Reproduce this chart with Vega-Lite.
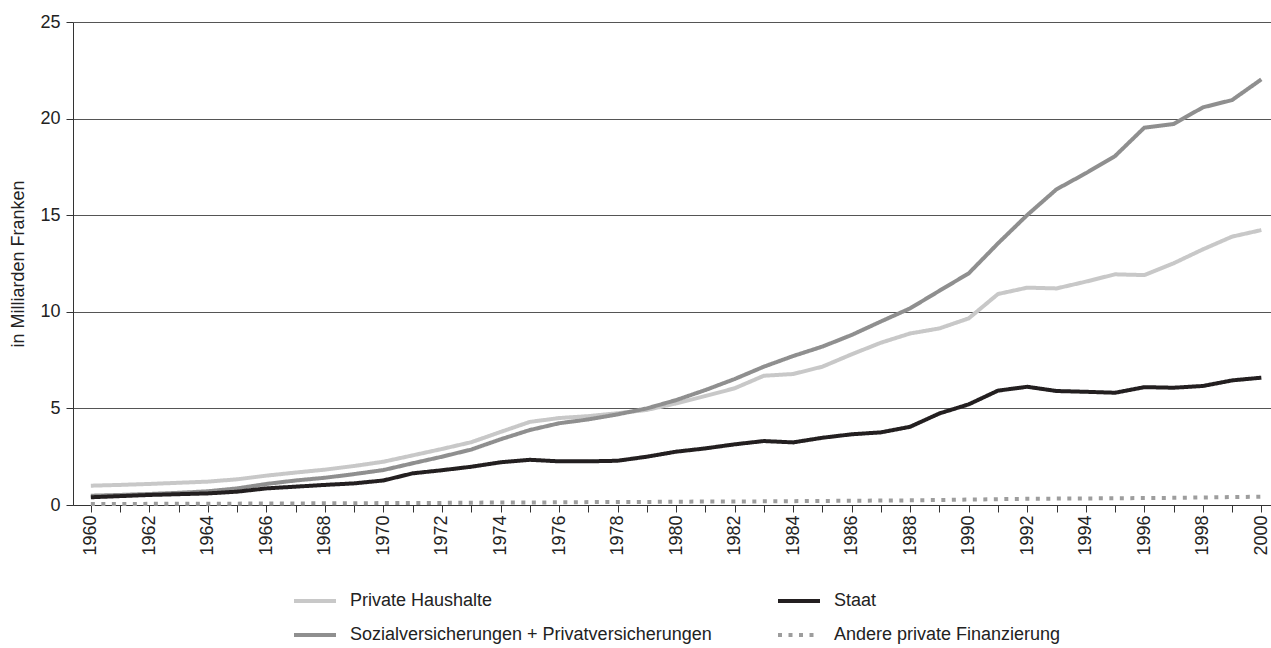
{
  "$schema": "https://vega.github.io/schema/vega-lite/v6.json",
  "width": 1198,
  "height": 483,
  "autosize": "none",
  "padding": {"left": 73, "top": 22, "right": 0, "bottom": 143},
  "background": "white",
  "config": {
    "font": "Liberation Sans",
    "view": {"stroke": null},
    "axis": {"labelFont": "Liberation Sans", "titleFont": "Liberation Sans", "labelColor": "#222", "titleColor": "#222"},
    "legend": {"labelFont": "Liberation Sans"}
  },
  "data": {"values": [
    {"year": 1960, "series": "Private Haushalte", "value": 1.00},
    {"year": 1961, "series": "Private Haushalte", "value": 1.04},
    {"year": 1962, "series": "Private Haushalte", "value": 1.09},
    {"year": 1963, "series": "Private Haushalte", "value": 1.15},
    {"year": 1964, "series": "Private Haushalte", "value": 1.21},
    {"year": 1965, "series": "Private Haushalte", "value": 1.33},
    {"year": 1966, "series": "Private Haushalte", "value": 1.52},
    {"year": 1967, "series": "Private Haushalte", "value": 1.68},
    {"year": 1968, "series": "Private Haushalte", "value": 1.83},
    {"year": 1969, "series": "Private Haushalte", "value": 2.02},
    {"year": 1970, "series": "Private Haushalte", "value": 2.24},
    {"year": 1971, "series": "Private Haushalte", "value": 2.57},
    {"year": 1972, "series": "Private Haushalte", "value": 2.90},
    {"year": 1973, "series": "Private Haushalte", "value": 3.25},
    {"year": 1974, "series": "Private Haushalte", "value": 3.78},
    {"year": 1975, "series": "Private Haushalte", "value": 4.30},
    {"year": 1976, "series": "Private Haushalte", "value": 4.50},
    {"year": 1977, "series": "Private Haushalte", "value": 4.60},
    {"year": 1978, "series": "Private Haushalte", "value": 4.75},
    {"year": 1979, "series": "Private Haushalte", "value": 4.92},
    {"year": 1980, "series": "Private Haushalte", "value": 5.26},
    {"year": 1981, "series": "Private Haushalte", "value": 5.64},
    {"year": 1982, "series": "Private Haushalte", "value": 6.04},
    {"year": 1983, "series": "Private Haushalte", "value": 6.69},
    {"year": 1984, "series": "Private Haushalte", "value": 6.78},
    {"year": 1985, "series": "Private Haushalte", "value": 7.16},
    {"year": 1986, "series": "Private Haushalte", "value": 7.80},
    {"year": 1987, "series": "Private Haushalte", "value": 8.40},
    {"year": 1988, "series": "Private Haushalte", "value": 8.88},
    {"year": 1989, "series": "Private Haushalte", "value": 9.14},
    {"year": 1990, "series": "Private Haushalte", "value": 9.66},
    {"year": 1991, "series": "Private Haushalte", "value": 10.92},
    {"year": 1992, "series": "Private Haushalte", "value": 11.25},
    {"year": 1993, "series": "Private Haushalte", "value": 11.21},
    {"year": 1994, "series": "Private Haushalte", "value": 11.56},
    {"year": 1995, "series": "Private Haushalte", "value": 11.94},
    {"year": 1996, "series": "Private Haushalte", "value": 11.90},
    {"year": 1997, "series": "Private Haushalte", "value": 12.51},
    {"year": 1998, "series": "Private Haushalte", "value": 13.23},
    {"year": 1999, "series": "Private Haushalte", "value": 13.89},
    {"year": 2000, "series": "Private Haushalte", "value": 14.23},
    {"year": 1960, "series": "Sozialversicherungen + Privatversicherungen", "value": 0.48},
    {"year": 1961, "series": "Sozialversicherungen + Privatversicherungen", "value": 0.52},
    {"year": 1962, "series": "Sozialversicherungen + Privatversicherungen", "value": 0.57},
    {"year": 1963, "series": "Sozialversicherungen + Privatversicherungen", "value": 0.63},
    {"year": 1964, "series": "Sozialversicherungen + Privatversicherungen", "value": 0.71},
    {"year": 1965, "series": "Sozialversicherungen + Privatversicherungen", "value": 0.86},
    {"year": 1966, "series": "Sozialversicherungen + Privatversicherungen", "value": 1.09},
    {"year": 1967, "series": "Sozialversicherungen + Privatversicherungen", "value": 1.27},
    {"year": 1968, "series": "Sozialversicherungen + Privatversicherungen", "value": 1.41},
    {"year": 1969, "series": "Sozialversicherungen + Privatversicherungen", "value": 1.60},
    {"year": 1970, "series": "Sozialversicherungen + Privatversicherungen", "value": 1.81},
    {"year": 1971, "series": "Sozialversicherungen + Privatversicherungen", "value": 2.16},
    {"year": 1972, "series": "Sozialversicherungen + Privatversicherungen", "value": 2.50},
    {"year": 1973, "series": "Sozialversicherungen + Privatversicherungen", "value": 2.87},
    {"year": 1974, "series": "Sozialversicherungen + Privatversicherungen", "value": 3.40},
    {"year": 1975, "series": "Sozialversicherungen + Privatversicherungen", "value": 3.88},
    {"year": 1976, "series": "Sozialversicherungen + Privatversicherungen", "value": 4.23},
    {"year": 1977, "series": "Sozialversicherungen + Privatversicherungen", "value": 4.43},
    {"year": 1978, "series": "Sozialversicherungen + Privatversicherungen", "value": 4.69},
    {"year": 1979, "series": "Sozialversicherungen + Privatversicherungen", "value": 5.00},
    {"year": 1980, "series": "Sozialversicherungen + Privatversicherungen", "value": 5.43},
    {"year": 1981, "series": "Sozialversicherungen + Privatversicherungen", "value": 5.95},
    {"year": 1982, "series": "Sozialversicherungen + Privatversicherungen", "value": 6.52},
    {"year": 1983, "series": "Sozialversicherungen + Privatversicherungen", "value": 7.16},
    {"year": 1984, "series": "Sozialversicherungen + Privatversicherungen", "value": 7.71},
    {"year": 1985, "series": "Sozialversicherungen + Privatversicherungen", "value": 8.20},
    {"year": 1986, "series": "Sozialversicherungen + Privatversicherungen", "value": 8.80},
    {"year": 1987, "series": "Sozialversicherungen + Privatversicherungen", "value": 9.50},
    {"year": 1988, "series": "Sozialversicherungen + Privatversicherungen", "value": 10.18},
    {"year": 1989, "series": "Sozialversicherungen + Privatversicherungen", "value": 11.09},
    {"year": 1990, "series": "Sozialversicherungen + Privatversicherungen", "value": 11.99},
    {"year": 1991, "series": "Sozialversicherungen + Privatversicherungen", "value": 13.54},
    {"year": 1992, "series": "Sozialversicherungen + Privatversicherungen", "value": 15.01},
    {"year": 1993, "series": "Sozialversicherungen + Privatversicherungen", "value": 16.34},
    {"year": 1994, "series": "Sozialversicherungen + Privatversicherungen", "value": 17.17},
    {"year": 1995, "series": "Sozialversicherungen + Privatversicherungen", "value": 18.06},
    {"year": 1996, "series": "Sozialversicherungen + Privatversicherungen", "value": 19.53},
    {"year": 1997, "series": "Sozialversicherungen + Privatversicherungen", "value": 19.72},
    {"year": 1998, "series": "Sozialversicherungen + Privatversicherungen", "value": 20.58},
    {"year": 1999, "series": "Sozialversicherungen + Privatversicherungen", "value": 20.96},
    {"year": 2000, "series": "Sozialversicherungen + Privatversicherungen", "value": 22.03},
    {"year": 1960, "series": "Staat", "value": 0.40},
    {"year": 1961, "series": "Staat", "value": 0.46},
    {"year": 1962, "series": "Staat", "value": 0.52},
    {"year": 1963, "series": "Staat", "value": 0.56},
    {"year": 1964, "series": "Staat", "value": 0.60},
    {"year": 1965, "series": "Staat", "value": 0.69},
    {"year": 1966, "series": "Staat", "value": 0.86},
    {"year": 1967, "series": "Staat", "value": 0.95},
    {"year": 1968, "series": "Staat", "value": 1.04},
    {"year": 1969, "series": "Staat", "value": 1.12},
    {"year": 1970, "series": "Staat", "value": 1.27},
    {"year": 1971, "series": "Staat", "value": 1.64},
    {"year": 1972, "series": "Staat", "value": 1.80},
    {"year": 1973, "series": "Staat", "value": 1.98},
    {"year": 1974, "series": "Staat", "value": 2.21},
    {"year": 1975, "series": "Staat", "value": 2.34},
    {"year": 1976, "series": "Staat", "value": 2.26},
    {"year": 1977, "series": "Staat", "value": 2.26},
    {"year": 1978, "series": "Staat", "value": 2.29},
    {"year": 1979, "series": "Staat", "value": 2.50},
    {"year": 1980, "series": "Staat", "value": 2.76},
    {"year": 1981, "series": "Staat", "value": 2.93},
    {"year": 1982, "series": "Staat", "value": 3.14},
    {"year": 1983, "series": "Staat", "value": 3.31},
    {"year": 1984, "series": "Staat", "value": 3.24},
    {"year": 1985, "series": "Staat", "value": 3.48},
    {"year": 1986, "series": "Staat", "value": 3.66},
    {"year": 1987, "series": "Staat", "value": 3.76},
    {"year": 1988, "series": "Staat", "value": 4.05},
    {"year": 1989, "series": "Staat", "value": 4.74},
    {"year": 1990, "series": "Staat", "value": 5.21},
    {"year": 1991, "series": "Staat", "value": 5.92},
    {"year": 1992, "series": "Staat", "value": 6.12},
    {"year": 1993, "series": "Staat", "value": 5.90},
    {"year": 1994, "series": "Staat", "value": 5.86},
    {"year": 1995, "series": "Staat", "value": 5.81},
    {"year": 1996, "series": "Staat", "value": 6.10},
    {"year": 1997, "series": "Staat", "value": 6.07},
    {"year": 1998, "series": "Staat", "value": 6.16},
    {"year": 1999, "series": "Staat", "value": 6.45},
    {"year": 2000, "series": "Staat", "value": 6.59},
    {"year": 1960, "series": "Andere private Finanzierung", "value": 0.05},
    {"year": 1961, "series": "Andere private Finanzierung", "value": 0.05},
    {"year": 1962, "series": "Andere private Finanzierung", "value": 0.06},
    {"year": 1963, "series": "Andere private Finanzierung", "value": 0.06},
    {"year": 1964, "series": "Andere private Finanzierung", "value": 0.07},
    {"year": 1965, "series": "Andere private Finanzierung", "value": 0.07},
    {"year": 1966, "series": "Andere private Finanzierung", "value": 0.08},
    {"year": 1967, "series": "Andere private Finanzierung", "value": 0.08},
    {"year": 1968, "series": "Andere private Finanzierung", "value": 0.09},
    {"year": 1969, "series": "Andere private Finanzierung", "value": 0.09},
    {"year": 1970, "series": "Andere private Finanzierung", "value": 0.10},
    {"year": 1971, "series": "Andere private Finanzierung", "value": 0.10},
    {"year": 1972, "series": "Andere private Finanzierung", "value": 0.11},
    {"year": 1973, "series": "Andere private Finanzierung", "value": 0.12},
    {"year": 1974, "series": "Andere private Finanzierung", "value": 0.13},
    {"year": 1975, "series": "Andere private Finanzierung", "value": 0.13},
    {"year": 1976, "series": "Andere private Finanzierung", "value": 0.14},
    {"year": 1977, "series": "Andere private Finanzierung", "value": 0.15},
    {"year": 1978, "series": "Andere private Finanzierung", "value": 0.15},
    {"year": 1979, "series": "Andere private Finanzierung", "value": 0.16},
    {"year": 1980, "series": "Andere private Finanzierung", "value": 0.17},
    {"year": 1981, "series": "Andere private Finanzierung", "value": 0.18},
    {"year": 1982, "series": "Andere private Finanzierung", "value": 0.18},
    {"year": 1983, "series": "Andere private Finanzierung", "value": 0.19},
    {"year": 1984, "series": "Andere private Finanzierung", "value": 0.20},
    {"year": 1985, "series": "Andere private Finanzierung", "value": 0.21},
    {"year": 1986, "series": "Andere private Finanzierung", "value": 0.22},
    {"year": 1987, "series": "Andere private Finanzierung", "value": 0.23},
    {"year": 1988, "series": "Andere private Finanzierung", "value": 0.24},
    {"year": 1989, "series": "Andere private Finanzierung", "value": 0.26},
    {"year": 1990, "series": "Andere private Finanzierung", "value": 0.28},
    {"year": 1991, "series": "Andere private Finanzierung", "value": 0.30},
    {"year": 1992, "series": "Andere private Finanzierung", "value": 0.32},
    {"year": 1993, "series": "Andere private Finanzierung", "value": 0.33},
    {"year": 1994, "series": "Andere private Finanzierung", "value": 0.34},
    {"year": 1995, "series": "Andere private Finanzierung", "value": 0.35},
    {"year": 1996, "series": "Andere private Finanzierung", "value": 0.36},
    {"year": 1997, "series": "Andere private Finanzierung", "value": 0.37},
    {"year": 1998, "series": "Andere private Finanzierung", "value": 0.39},
    {"year": 1999, "series": "Andere private Finanzierung", "value": 0.41},
    {"year": 2000, "series": "Andere private Finanzierung", "value": 0.43}
  ]},
  "mark": {"type": "line", "strokeWidth": 4, "strokeCap": "butt", "strokeJoin": "miter", "clip": false},
  "encoding": {
    "x": {
      "field": "year", "type": "quantitative",
      "scale": {"domain": [1959.39, 2000.33], "nice": false, "zero": false},
      "axis": {
        "title": null,
        "values": [1960,1961,1962,1963,1964,1965,1966,1967,1968,1969,1970,1971,1972,1973,1974,1975,1976,1977,1978,1979,1980,1981,1982,1983,1984,1985,1986,1987,1988,1989,1990,1991,1992,1993,1994,1995,1996,1997,1998,1999,2000],
        "labelExpr": "datum.value % 2 == 0 ? datum.value : ''",
        "labelAngle": -90,
        "labelAlign": "right",
        "labelBaseline": "middle",
        "labelFontSize": 18,
        "labelPadding": 3,
        "labelOverlap": false,
        "tickSize": 7,
        "tickColor": "#333",
        "domainColor": "#333",
        "grid": false
      }
    },
    "y": {
      "field": "value", "type": "quantitative",
      "scale": {"domain": [0, 25], "nice": false},
      "axis": {
        "title": "in Milliarden Franken",
        "titleFontSize": 18,
        "titleFontWeight": "normal",
        "titlePadding": 12,
        "values": [0, 5, 10, 15, 20, 25],
        "labelFontSize": 18,
        "labelPadding": 6,
        "tickSize": 7,
        "tickColor": "#333",
        "domainColor": "#333",
        "grid": true,
        "gridColor": "#555",
        "gridWidth": 1
      }
    },
    "color": {
      "field": "series", "type": "nominal",
      "scale": {
        "domain": ["Private Haushalte", "Staat", "Sozialversicherungen + Privatversicherungen", "Andere private Finanzierung"],
        "range": ["#c8c8c8", "#231f20", "#8f8f8f", "#9d9d9d"]
      },
      "legend": {
        "title": null,
        "orient": "none",
        "legendX": 219,
        "legendY": 556,
        "direction": "horizontal",
        "columns": 2,
        "columnPadding": 58,
        "rowPadding": 2,
        "symbolType": "stroke",
        "symbolSize": 1764,
        "symbolStrokeWidth": 4,
        "labelFontSize": 18,
        "labelOffset": 12,
        "labelLimit": 600,
        "labelColor": "#222"
      }
    },
    "strokeDash": {
      "field": "series", "type": "nominal",
      "scale": {
        "domain": ["Private Haushalte", "Staat", "Sozialversicherungen + Privatversicherungen", "Andere private Finanzierung"],
        "range": [[1, 0], [1, 0], [1, 0], [4, 6.5]]
      }
    }
  }
}
